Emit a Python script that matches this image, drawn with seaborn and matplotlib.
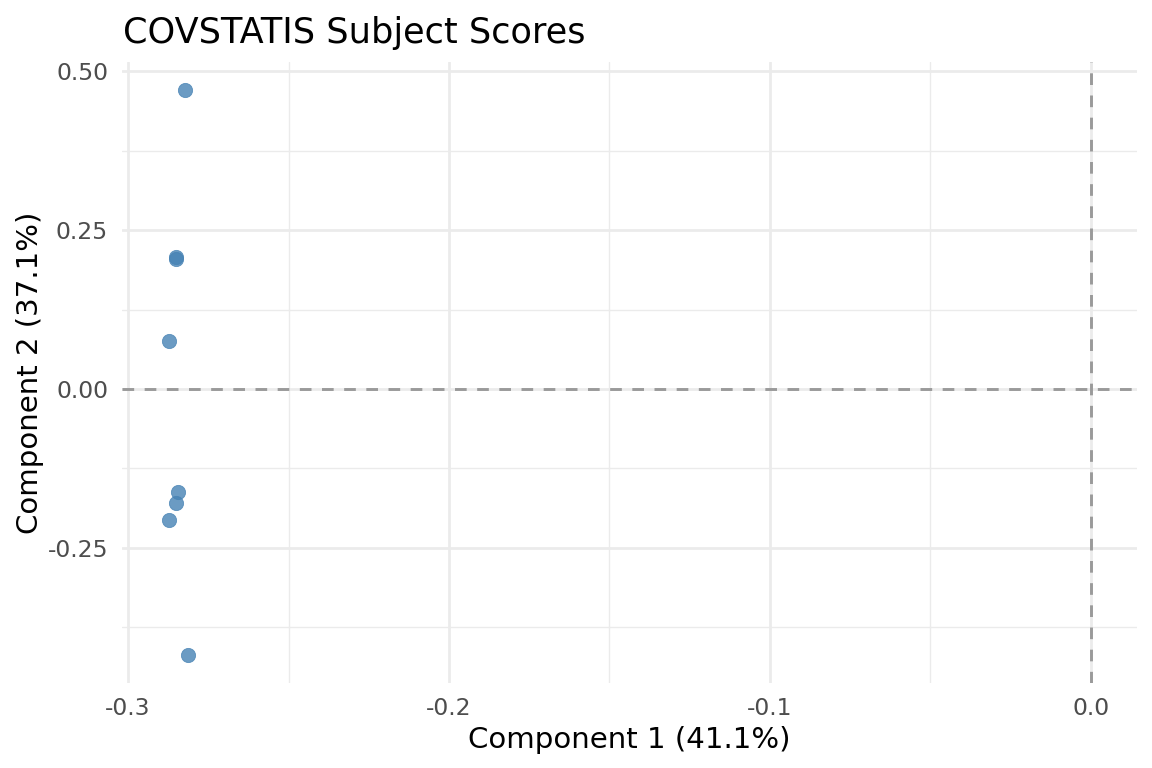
import matplotlib
matplotlib.use("Agg")
import matplotlib.pyplot as plt
import seaborn as sns
import pandas as pd
from matplotlib.ticker import MultipleLocator

comp1 = [-0.2822, -0.2850, -0.2850, -0.2872, -0.2844, -0.2852, -0.2874, -0.2813]
comp2 = [0.4697, 0.2075, 0.2044, 0.0755, -0.1624, -0.1797, -0.2055, -0.4193]
title = "COVSTATIS Subject Scores"
xlab = "Component 1 (41.1%)"
ylab = "Component 2 (37.1%)"

df = pd.DataFrame({"c1": comp1, "c2": comp2})

sns.set_theme(style="white")
plt.rcParams['font.family'] = ['DejaVu Sans']

fig = plt.figure(figsize=(11.52, 7.68), dpi=100)
ax = fig.add_axes([122/1152, 1 - 683/768, (1137-122)/1152, (683-62)/768])

ax.xaxis.set_major_locator(MultipleLocator(0.1))
ax.xaxis.set_minor_locator(MultipleLocator(0.05))
ax.yaxis.set_major_locator(MultipleLocator(0.25))
ax.yaxis.set_minor_locator(MultipleLocator(0.125))
ax.grid(which="major", color="#EBEBEB", linewidth=2.0)
ax.grid(which="minor", color="#EBEBEB", linewidth=1.0)
ax.set_axisbelow(True)
for s in ax.spines.values():
    s.set_visible(False)

ax.axhline(0, color="#9A9A9A", linestyle=(0, (4, 3.6)), linewidth=2.1, zorder=2)
ax.axvline(0, color="#9A9A9A", linestyle=(0, (4, 3.6)), linewidth=2.1, zorder=2)

sns.scatterplot(data=df, x="c1", y="c2", ax=ax, color="#4682B4", alpha=0.8,
                s=105, edgecolor="#4682B4", linewidth=0.6, zorder=3)

ax.set_xlim(-0.3019, 0.0144)
ax.set_ylim(-0.4626, 0.5144)
ax.set_xticks([-0.3, -0.2, -0.1, 0.0])
ax.set_xticklabels(["-0.3", "-0.2", "-0.1", "0.0"])
ax.set_yticks([-0.25, 0.0, 0.25, 0.5])
ax.set_yticklabels(["-0.25", "0.00", "0.25", "0.50"])
ax.tick_params(which="both", length=0, labelsize=16.9, labelcolor="#4D4D4D", pad=10)

ax.set_xlabel(xlab, fontsize=21.1, color="black", labelpad=4.5)
ax.set_ylabel(ylab, fontsize=21.1, color="black", labelpad=2.5)
ax.set_title(title, fontsize=25.3, loc="left", color="black", pad=14, x=0.001)

fig.savefig("out.png", dpi=100)
